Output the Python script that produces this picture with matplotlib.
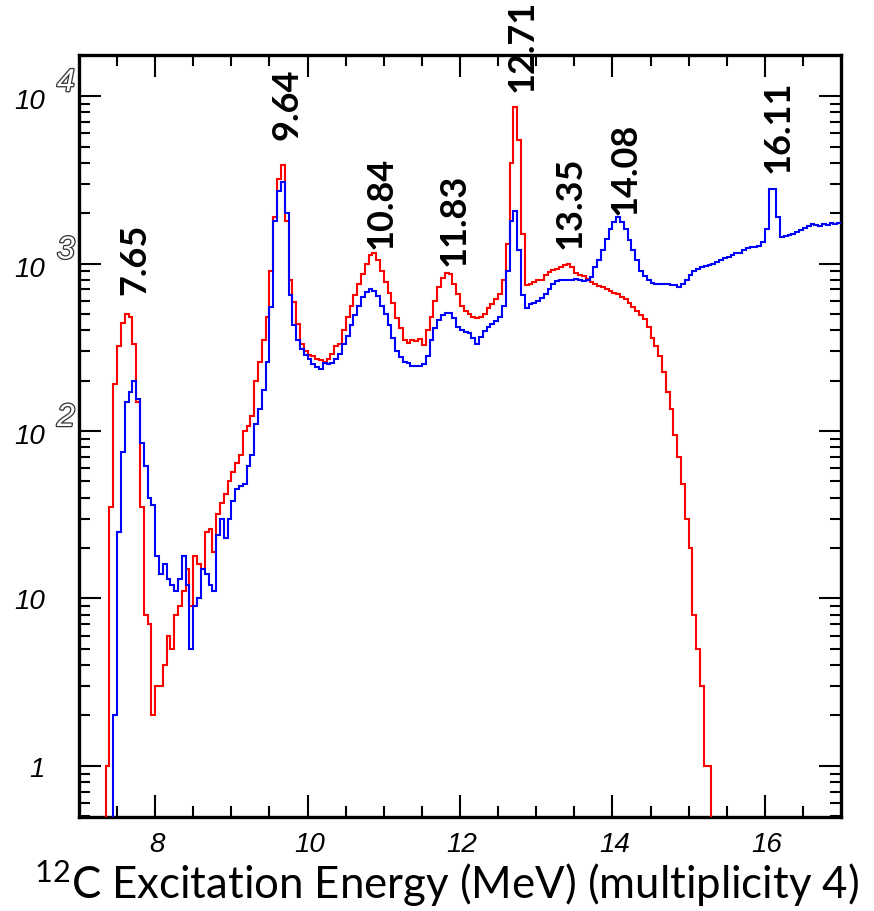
import numpy as np
import matplotlib
matplotlib.use("Agg")
import matplotlib.pyplot as plt
import matplotlib.patheffects as pe

plt.rcParams["mathtext.fontset"] = "custom"
plt.rcParams["mathtext.rm"] = "Lato"
plt.rcParams["mathtext.it"] = "Lato:italic"
plt.rcParams["mathtext.bf"] = "Lato:bold"

# ---------------- data ----------------
bin_width = 0.05
energy_start = 7.0

red_counts = [
    0, 0, 0, 0, 0, 0, 0, 1, 35, 190,
    320, 440, 497, 480, 330, 150, 35, 8, 7, 2,
    3, 3, 4, 6, 5, 8, 9, 11, 15, 9,
    18, 16, 15, 25, 26, 19, 32, 37, 42, 50,
    57, 64, 72, 100, 107, 123, 200, 260, 350, 480,
    900, 1900, 3200, 3870, 1800, 800, 590, 435, 330, 300,
    285, 280, 270, 265, 260, 270, 290, 320, 330, 400,
    480, 560, 650, 750, 870, 1000, 1130, 1150, 1050, 900,
    780, 670, 580, 470, 410, 350, 335, 350, 345, 355,
    325, 400, 480, 600, 720, 820, 880, 870, 760, 660,
    560, 520, 500, 480, 470, 480, 500, 540, 570, 610,
    660, 800, 1300, 4000, 8600, 5500, 1500, 740, 760, 780,
    800, 800, 860, 890, 910, 930, 960, 980, 990, 960,
    880, 860, 840, 810, 780, 750, 730, 720, 705, 690,
    670, 660, 630, 610, 580, 550, 520, 495, 465, 420,
    360, 320, 280, 225, 170, 135, 95, 70, 48, 30,
    20, 8, 5, 3, 1, 1, 0, 0, 0, 0,
    0, 0, 0, 0, 0, 0, 0, 0, 0, 0,
    0, 0, 0, 0, 0, 0, 0, 0, 0, 0,
    0, 0, 0, 0, 0, 0, 0, 0, 0, 0,
]

blue_counts = [
    0, 0, 0, 0, 0, 0, 0, 0, 0, 2,
    25, 75, 150, 170, 200, 155, 85, 62, 40, 36,
    18, 14, 16, 13, 12, 11, 13, 18, 12, 5,
    9, 10, 15, 14, 12, 11, 24, 30, 23, 30,
    38, 45, 47, 48, 62, 72, 110, 135, 175, 260,
    550, 1800, 2700, 3050, 2000, 650, 430, 350, 310, 285,
    270, 250, 240, 235, 255, 250, 255, 270, 290, 330,
    370, 430, 490, 560, 630, 680, 700, 690, 640, 560,
    500, 430, 360, 300, 275, 260, 255, 245, 245, 245,
    250, 280, 350, 410, 460, 495, 505, 510, 470, 420,
    400, 390, 385, 360, 330, 365, 395, 420, 435, 455,
    480, 560, 900, 1800, 2050, 1200, 650, 545, 570, 580,
    600, 620, 660, 700, 760, 790, 800, 800, 795, 800,
    810, 800, 790, 800, 830, 950, 1050, 1200, 1400, 1600,
    1780, 1900, 1780, 1600, 1380, 1200, 1050, 900, 840, 800,
    770, 760, 760, 750, 750, 740, 745, 720, 760, 800,
    850, 900, 930, 950, 970, 985, 1000, 1020, 1050, 1080,
    1100, 1120, 1150, 1160, 1200, 1230, 1250, 1260, 1280, 1350,
    1600, 2800, 2800, 1900, 1450, 1460, 1480, 1500, 1550, 1580,
    1620, 1680, 1720, 1700, 1680, 1720, 1690, 1740, 1720, 1750,
]

peak_labels = ["7.65", "9.64", "10.84", "11.83", "12.71", "13.35", "14.08", "16.11"]

x_ticks = [8, 10, 12, 14, 16]
x_tick_labels = ["8", "10", "12", "14", "16"]
y_decades = [1, 10, 100, 1000, 10000]
y_mantissa = ["1", "10", "10", "10", "10"]
y_exponent = ["", "", "2", "3", "4"]

x_label = r"$\mathregular{^{12}}$C Excitation Energy (MeV) (multiplicity 4)"

# ---------------- layout ----------------
label_x = [7.73, 9.73, 10.965, 11.925, 12.82, 13.44, 14.165, 16.175]
label_base = [658, 5530, 1239, 980, 10710, 1239, 1976, 3515]

fig = plt.figure(figsize=(8.74, 9.12), dpi=100)
ax = fig.add_axes([79 / 874, 1 - 818 / 912, (841 - 79) / 874, (818 - 56) / 912])

red = np.asarray(red_counts, dtype=float)
blue = np.asarray(blue_counts, dtype=float)
edges = energy_start + bin_width * np.arange(len(red) + 1)

ax.set_yscale("log", nonpositive="clip")
ax.stairs(red, edges, baseline=None, color="#ff0000", lw=1.5, zorder=3)
ax.stairs(blue, edges, baseline=None, color="#0000ff", lw=1.5, zorder=4)

ax.set_xlim(7, 17)
ax.set_ylim(0.495, 17600)

# ticks
ax.set_xticks(x_ticks)
ax.set_xticks(np.arange(7.5, 17.0, 0.5), minor=True)
ax.set_yticks(y_decades)
minor_y = [m * 10.0 ** d for d in range(-1, 5) for m in range(2, 10)]
minor_y = [v for v in minor_y if 0.495 < v < 17600]
ax.set_yticks(minor_y, minor=True)
ax.tick_params(which="both", direction="in", top=True, right=True,
               labelbottom=False, labelleft=False, width=1.5, color="black")
ax.tick_params(which="major", length=16)
ax.tick_params(which="minor", length=8)
for s in ax.spines.values():
    s.set_linewidth(2.4)

tick_font = dict(family="Liberation Sans", style="italic", fontsize=20, color="black")
for v, t in zip(x_ticks, x_tick_labels):
    ax.annotate(t, xy=(v, 0), xycoords=("data", "axes fraction"),
                xytext=(2, -27), textcoords="offset pixels",
                ha="center", va="center", **tick_font)

for v, m, e in zip(y_decades, y_mantissa, y_exponent):
    dy = -5 if e else -3
    ax.annotate(m, xy=(0, v), xycoords=("axes fraction", "data"),
                xytext=(-34, dy), textcoords="offset pixels",
                ha="right", va="center", **tick_font)
    if e:
        ax.annotate(e, xy=(0, v), xycoords=("axes fraction", "data"),
                    xytext=(-22, 13), textcoords="offset pixels",
                    ha="left", va="center", family="Liberation Sans",
                    style="italic", fontsize=23, color="white",
                    path_effects=[pe.withStroke(linewidth=1.8, foreground="#333333")])

for t, x, y in zip(peak_labels, label_x, label_base):
    ax.text(x, y, t, rotation=90, ha="center", va="bottom",
            family="Lato", fontweight="bold", fontsize=26, color="black",
            zorder=6)

fig.text(446 / 874, 1 - 884 / 912, x_label, ha="center", va="center",
         family="Lato", fontsize=31.5, color="black")

fig.savefig("out.png", dpi=100, facecolor="white")
